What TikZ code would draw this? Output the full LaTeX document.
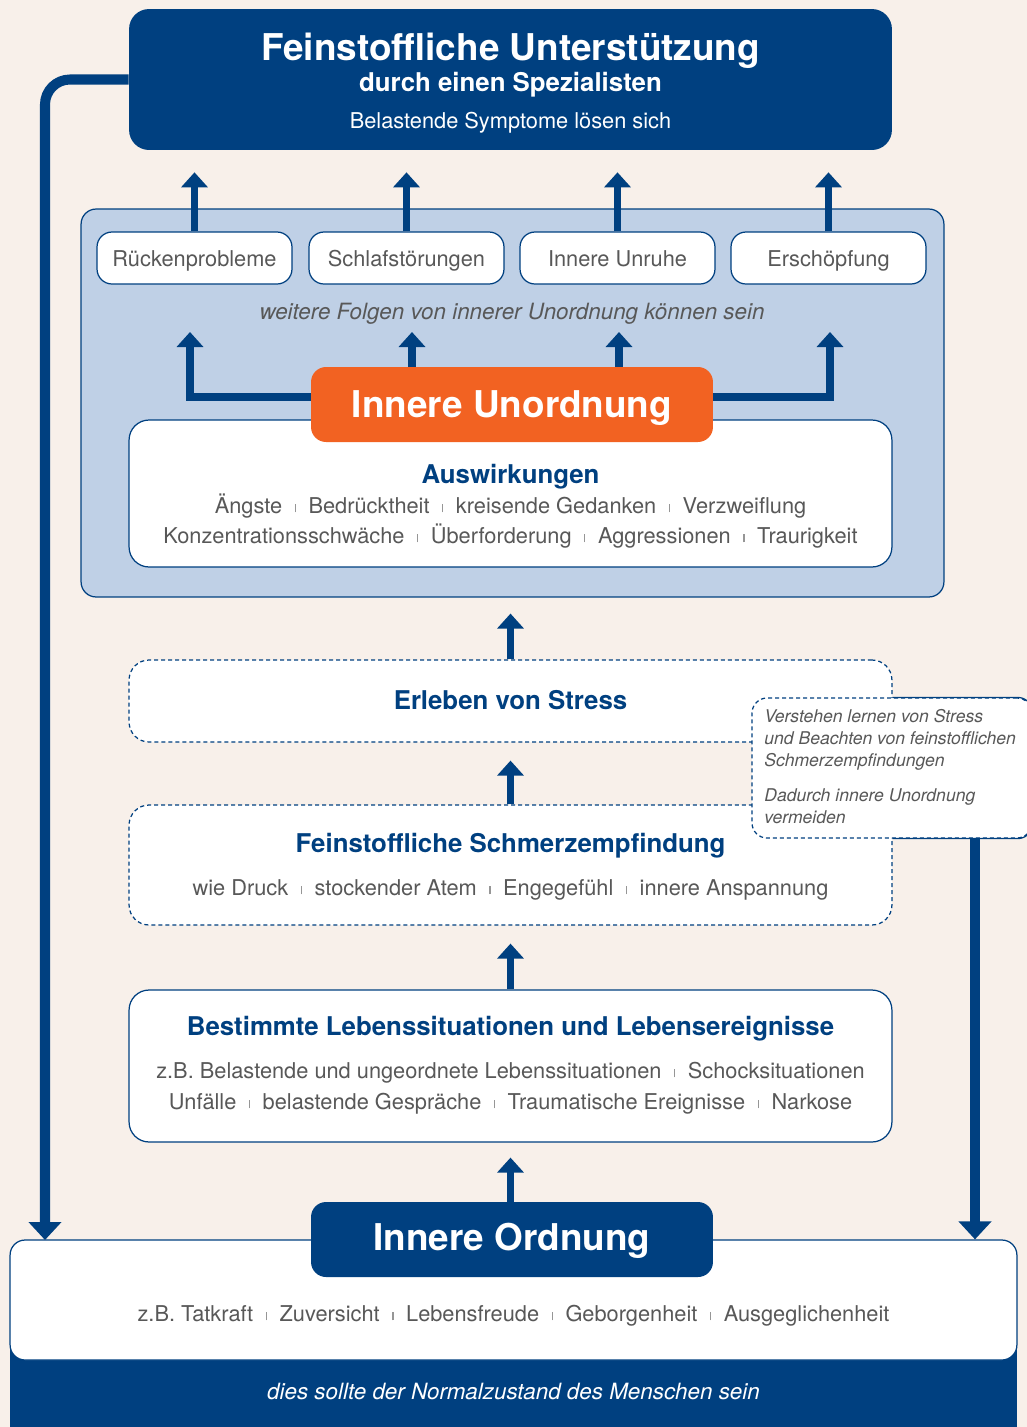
\documentclass[tikz,border=0pt]{standalone}
\usepackage{fontspec}
\setmainfont{TeX Gyre Heros}
\usetikzlibrary{arrows.meta}

\definecolor{dblue}{RGB}{0,64,128}
\definecolor{uorange}{RGB}{242,98,34}
\definecolor{panelblue}{RGB}{191,208,230}
\definecolor{cream}{RGB}{248,240,234}
\definecolor{tgray}{RGB}{88,88,88}
\definecolor{sepgray}{RGB}{150,150,150}

\newcommand{\trenn}{\hspace{0.58em}{\color{sepgray}\rule[0.03em]{0.05em}{0.4em}}\hspace{0.58em}}

\tikzset{
  box/.style={draw=dblue, line width=0.7pt, fill=white, rounded corners=0.4cm, inner sep=0},
  dashbox/.style={box, dash pattern=on 0.08cm off 0.06cm},
  smallbox/.style={box, rounded corners=0.3cm, minimum width=3.9cm, minimum height=1.04cm},
  bluebox/.style={fill=dblue, rounded corners=0.4cm, inner sep=0},
  orangebox/.style={fill=uorange, rounded corners=0.3cm, inner sep=0, minimum width=8.04cm, minimum height=1.5cm},
  txt/.style={anchor=base, inner sep=0, text=tgray, font=\fontsize{12.4}{15}\selectfont},
  notetxt/.style={anchor=base west, inner sep=0, text=tgray, font=\fontsize{10}{12}\selectfont\itshape},
  head/.style={anchor=base, inner sep=0, text=dblue, font=\fontsize{14.7}{17}\selectfont\bfseries},
  bigtitle/.style={anchor=base, inner sep=0, text=white, font=\fontsize{21}{25}\selectfont\bfseries},
  uparrow/.style={draw=dblue, line width=4pt, -{Triangle[width=0.52cm, length=0.3cm]}},
  bigarrow/.style={draw=dblue, line width=5.7pt, -{Triangle[width=0.64cm, length=0.36cm]}}
}

\begin{document}
\begin{tikzpicture}[x=0.02cm, y=-0.02cm]
    \clip (0,0) rectangle (1027,1427);
    \fill[cream] (0,0) rectangle (1027,1427);

    % Specialist support
    \node[bluebox, minimum width=15.26cm, minimum height=2.82cm] (spec) at (510.5,79.5) {};
    \node[bigtitle] (specTitle) at (510.5,60) {Feinstoffliche Unterstützung};
    \node[bigtitle, font=\fontsize{14.7}{17}\selectfont\bfseries] (specSub) at (510.5,91) {durch einen Spezialisten};
    \node[txt, text=white] (specLine) at (510.5,128) {Belastende Symptome lösen sich};

    % Inner disorder panel
    \node[draw=dblue, line width=0.7pt, fill=panelblue, rounded corners=0.3cm, minimum width=17.26cm, minimum height=7.76cm] (panel) at (512.5,403) {};

    % Consequences
    \node[smallbox] (rueck) at (194.5,258) {};
    \node[smallbox] (schlaf) at (406.5,258) {};
    \node[smallbox] (unruhe) at (617.5,258) {};
    \node[smallbox] (ersch) at (828.5,258) {};
    \node[txt] (rueckTxt) at (194.5,266) {Rückenprobleme};
    \node[txt] (schlafTxt) at (406.5,266) {Schlafstörungen};
    \node[txt] (unruheTxt) at (617.5,266) {Innere Unruhe};
    \node[txt] (erschTxt) at (828.5,266) {Erschöpfung};
    \node[txt, font=\fontsize{12.75}{15}\selectfont\itshape] (folgen) at (512,319) {weitere Folgen von innerer Unordnung können sein};

    \foreach \b in {rueck, schlaf, unruhe, ersch}
        \draw[uparrow, shorten >=0.44cm] (\b.north) -- (\b.north |- spec.south);

    % Effects
    \node[box, minimum width=15.26cm, minimum height=2.94cm] (ausw) at (510.5,493.5) {};
    \node[head] (auswHead) at (510.5,483) {Auswirkungen};
    \node[txt] (auswA) at (510.5,513) {Ängste\trenn Bedrücktheit\trenn kreisende Gedanken\trenn Verzweiflung};
    \node[txt] (auswB) at (510.5,543) {Konzentrationsschwäche\trenn Überforderung\trenn Aggressionen\trenn Traurigkeit};

    % Arrows out of the disorder
    \coordinate (tipA) at (190,332);
    \coordinate (tipB) at (412,332);
    \coordinate (tipC) at (619,332);
    \coordinate (tipD) at (830,332);
    \draw[uparrow] (311,397) -| (tipA);
    \draw[uparrow] (713,397) -| (tipD);
    \node[orangebox] (unord) at (512,404.5) {};
    \draw[uparrow] (unord.north -| tipB) -- (tipB);
    \draw[uparrow] (unord.north -| tipC) -- (tipC);
    \node[bigtitle] (unordTxt) at (512,417) {Innere Unordnung};

    % Stress
    \node[dashbox, minimum width=15.26cm, minimum height=1.64cm] (stress) at (510.5,701) {};
    \node[head] (stressHead) at (510.5,709) {Erleben von Stress};

    % Subtle pain
    \node[dashbox, minimum width=15.26cm, minimum height=2.4cm] (schmerz) at (510.5,865) {};
    \node[head] (schmerzHead) at (510.5,852) {Feinstoffliche Schmerzempfindung};
    \node[txt] (schmerzTxt) at (510.5,895) {wie Druck\trenn stockender Atem\trenn Engegefühl\trenn innere Anspannung};

    % Note
    \node[dashbox, rounded corners=0.3cm, minimum width=5.6cm, minimum height=2.8cm] (note) at (892,768) {};
    \draw[dblue, line width=0.7pt, rounded corners=0.3cm] (note.north -| stress.east) -- (note.north east) -- (note.south east) -- (note.south -| stress.east);
    \node[notetxt] (noteA) at (764,722) {Verstehen lernen von Stress};
    \node[notetxt] (noteB) at (764,744) {und Beachten von feinstofflichen};
    \node[notetxt] (noteC) at (764,766) {Schmerzempfindungen};
    \node[notetxt] (noteD) at (764,801) {Dadurch innere Unordnung};
    \node[notetxt] (noteE) at (764,823) {vermeiden};

    % Life situations
    \node[box, minimum width=15.26cm, minimum height=3.04cm] (leben) at (510.5,1066) {};
    \node[head] (lebenHead) at (510.5,1035) {Bestimmte Lebenssituationen und Lebensereignisse};
    \node[txt] (lebenA) at (510.5,1078) {z.B. Belastende und ungeordnete Lebenssituationen\trenn Schocksituationen};
    \node[txt] (lebenB) at (510.5,1109) {Unfälle\trenn belastende Gespräche\trenn Traumatische Ereignisse\trenn Narkose};

    % Inner order
    \node[bluebox, rounded corners=0.3cm, minimum width=20.14cm, minimum height=4.2cm] (base) at (513.5,1345) {};
    \node[box, rounded corners=0.3cm, minimum width=20.14cm, minimum height=2.4cm] (baseTop) at (513.5,1300) {};
    \node[bluebox, rounded corners=0.3cm, minimum width=8.04cm, minimum height=1.5cm] (ord) at (512,1239.5) {};
    \node[bigtitle] (ordTxt) at (512,1250) {Innere Ordnung};
    \node[txt] (baseTxt) at (513.5,1321) {z.B. Tatkraft\trenn Zuversicht\trenn Lebensfreude\trenn Geborgenheit\trenn Ausgeglichenheit};
    \node[txt, text=white, font=\fontsize{12.75}{15}\selectfont\itshape] (normal) at (513.5,1399) {dies sollte der Normalzustand des Menschen sein};

    % Arrows up the chain
    \draw[uparrow, shorten >=0.32cm] (stress.north) -- (stress.north |- panel.south);
    \draw[uparrow, shorten >=0.36cm] (schmerz.north) -- (stress.south);
    \draw[uparrow, shorten >=0.36cm] (leben.north) -- (schmerz.south);
    \draw[uparrow, shorten >=0.3cm] (leben.south |- ord.north) -- (leben.south);

    % Feedback loops
    \coordinate (leftDrop) at (45,1240);
    \coordinate (noteOut) at (975,838);
    \draw[bigarrow, rounded corners=0.5cm] (spec.west) -| (leftDrop);
    \draw[bigarrow] (noteOut) -- (noteOut |- baseTop.north);
\end{tikzpicture}
\end{document}
